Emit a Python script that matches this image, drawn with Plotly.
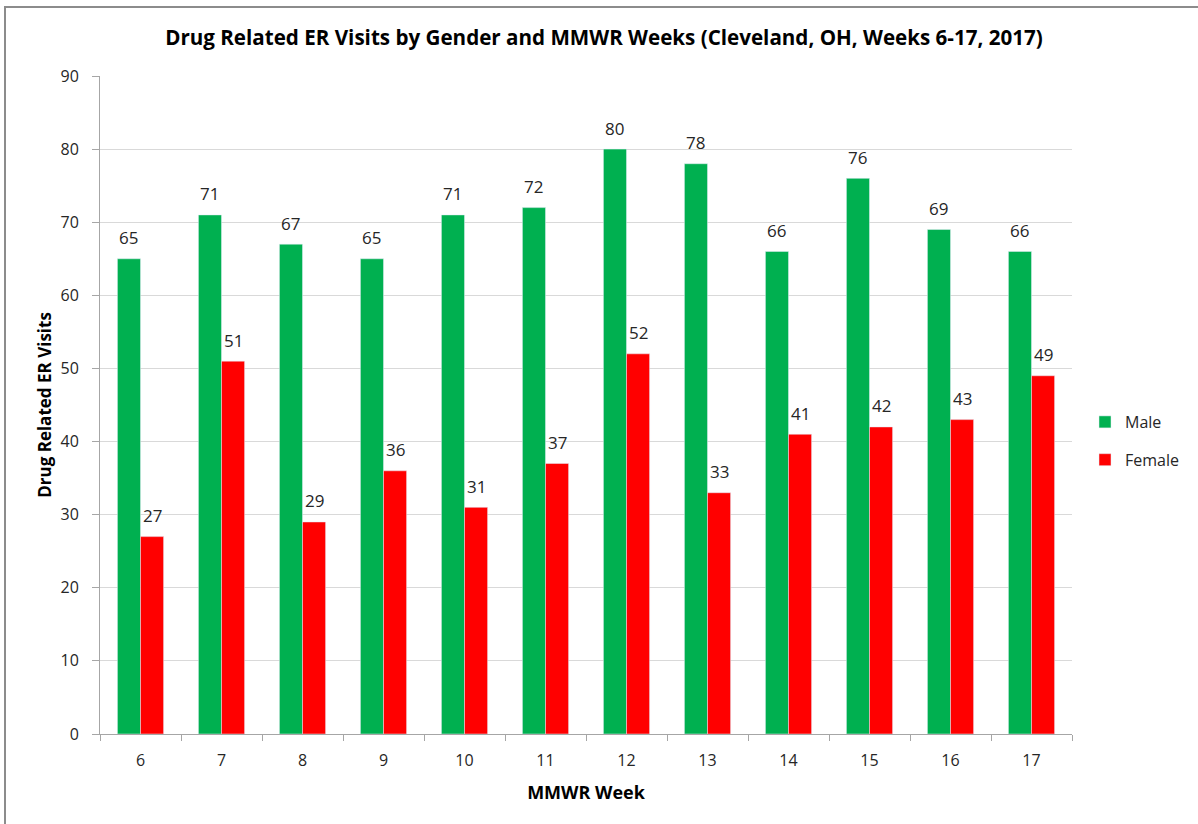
import plotly.graph_objects as go

weeks = ["6", "7", "8", "9", "10", "11", "12", "13", "14", "15", "16", "17"]
male = [65, 71, 67, 65, 71, 72, 80, 78, 66, 76, 69, 66]
female = [27, 51, 29, 36, 31, 37, 52, 33, 41, 42, 43, 49]

FONT = "Open Sans"
W, H = 1198, 824
L, R, T, B = 100, 126, 76, 90
pw, ph = W - L - R, H - T - B
BARGAP = 0.43
bar_px = pw / len(weeks) * (1 - BARGAP) / 2

fig = go.Figure()
fig.add_trace(go.Bar(name="Male", x=weeks, y=male, marker_color="#00B050",
                     legendgroup="m", hoverinfo="x+y"))
fig.add_trace(go.Bar(name="Female", x=weeks, y=female, marker_color="#FF0000",
                     legendgroup="f", hoverinfo="x+y"))

annotations = []
for vals, shift in ((male, -bar_px / 2), (female, bar_px / 2)):
    for i, v in enumerate(vals):
        annotations.append(dict(x=i, y=v, xref="x", yref="y", text=str(v),
                                showarrow=False, xshift=shift, yshift=21,
                                yanchor="middle", xanchor="center",
                                font=dict(size=17, color="#262626", family=FONT)))

fig.update_layout(
    width=W, height=H,
    margin=dict(l=L, r=R, t=T, b=B, autoexpand=False),
    paper_bgcolor="white", plot_bgcolor="white",
    barmode="group", bargap=BARGAP, bargroupgap=0,
    font=dict(family=FONT, size=16, color="#262626"),
    title=dict(text="<b>Drug Related ER Visits by Gender and MMWR Weeks (Cleveland, OH, Weeks 6-17, 2017)</b>",
               x=604 / W, xanchor="center", y=1 - 38 / H, yanchor="middle",
               font=dict(size=20.6, color="#000000", family=FONT)),
    legend=dict(xref="container", x=1085 / W, xanchor="left",
                yref="container", y=1 - 441 / H, yanchor="middle",
                font=dict(size=16, color="#262626"), traceorder="grouped",
                tracegroupgap=14, itemwidth=30, bgcolor="rgba(0,0,0,0)"),
    xaxis=dict(type="category", range=[-0.5, len(weeks) - 0.5],
               title=dict(text="<b>MMWR Week</b>", font=dict(size=18, color="#000"), standoff=16),
               showline=True, linecolor="#A6A6A6", linewidth=1,
               ticks="outside", tickson="boundaries", ticklen=6, tickcolor="#A6A6A6",
               ticklabelstandoff=12, tickfont=dict(size=16), showgrid=False),
    yaxis=dict(title=dict(text="<b>Drug Related ER Visits</b>", font=dict(size=17, color="#000"), standoff=4),
               range=[0, 90], dtick=10, showline=True, linecolor="#A6A6A6", linewidth=1,
               ticks="outside", ticklen=7, tickcolor="#A6A6A6", ticklabelstandoff=10,
               gridcolor="#D9D9D9", gridwidth=1, zeroline=False,
               tickfont=dict(size=16)),
    annotations=annotations,
    shapes=[dict(type="rect", xref="paper", yref="paper",
                 x0=(5 - L) / pw, x1=(1210 - L) / pw,
                 y0=(H - B - 840) / ph, y1=(H - B - 7) / ph,
                 line=dict(color="#8C8C8C", width=2), fillcolor="rgba(0,0,0,0)", layer="below")],
)

fig.write_html("out.html", config={"displayModeBar": False},
               post_script="document.body.style.margin='0';window.dispatchEvent(new Event('resize'));")
